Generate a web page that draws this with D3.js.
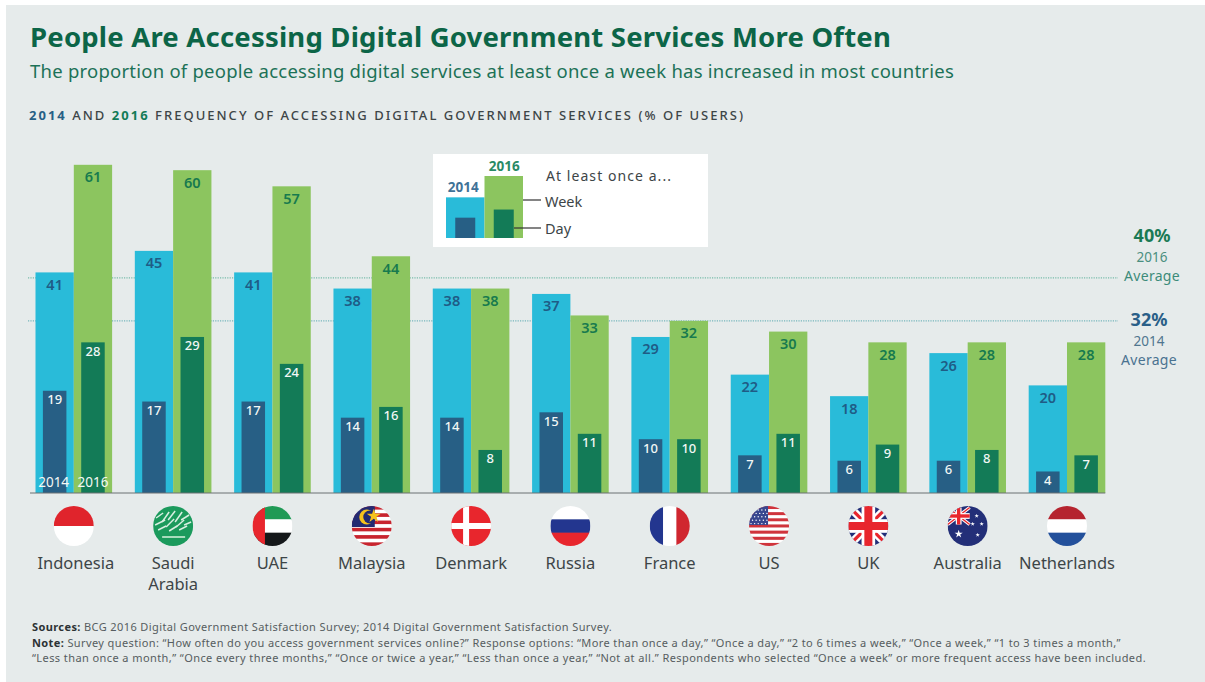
<!DOCTYPE html>
<html>
<head>
<meta charset="utf-8">
<script src="https://cdn.jsdelivr.net/npm/d3@7/dist/d3.min.js"></script>
<style>
html,body{margin:0;padding:0;background:#fff}
svg{display:block}
text{font-family:"Noto Sans",sans-serif}
</style>
</head>
<body>
<svg id="chart" width="1205" height="682"></svg>
<script>
const countries = ["Indonesia","Saudi Arabia","UAE","Malaysia","Denmark","Russia","France","US","UK","Australia","Netherlands"];
const years = ["2014","2016"];
const week2014 = [41,45,41,38,38,37,29,22,18,26,20];
const week2016 = [61,60,57,44,38,33,32,30,28,28,28];
const day2014 = [19,17,17,14,14,15,10,7,6,6,4];
const day2016 = [28,29,24,16,8,11,10,11,9,8,7];
const averages = [{year:"2016",value:40},{year:"2014",value:32}];
const legendWeek = [40,61];
const legendDay = [20,28];

const titleText = "People Are Accessing Digital Government Services More Often";
const subtitleText = "The proportion of people accessing digital services at least once a week has increased in most countries";
const noteLines = [
  [["Sources: ",true],["BCG 2016 Digital Government Satisfaction Survey; 2014 Digital Government Satisfaction Survey.",false]],
  [["Note: ",true],["Survey question: “How often do you access government services online?” Response options: “More than once a day,” “Once a day,” “2 to 6 times a week,” “Once a week,” “1 to 3 times a month,”",false]],
  [["“Less than once a month,” “Once every three months,” “Once or twice a year,” “Less than once a year,” “Not at all.” Respondents who selected “Once a week” or more frequent access have been included.",false]]
];

const colors = {
  panel:"#e6ebeb", week2014:"#29bbd9", week2016:"#8cc55f", day2014:"#275f85", day2016:"#137b57",
  title:"#0c6547", subtitle:"#1c7257", text:"#3d4547", label2014:"#1f5c86", label2016:"#177a4e"
};

const svg = d3.select("#chart");

// Stretches or tightens tracking so a line of text spans a given width
function fitWidth(sel, width){
  const node = sel.node();
  const n = node.getNumberOfChars();
  const w = node.getComputedTextLength();
  sel.attr("letter-spacing", ((width - w) / n).toFixed(3));
  return sel;
}

svg.append("rect").attr("x",6).attr("y",5).attr("width",1199).attr("height",677).attr("fill",colors.panel);

// Header block
fitWidth(svg.append("text").attr("x",30).attr("y",47).attr("font-size",27.5).attr("font-weight",700)
  .attr("fill",colors.title).text(titleText), 861);
fitWidth(svg.append("text").attr("x",30).attr("y",78).attr("font-size",18.5).attr("fill",colors.subtitle)
  .text(subtitleText), 924);
const heading = svg.append("text").attr("x",29).attr("y",120).attr("font-size",13).attr("font-weight",500).attr("fill",colors.text);
heading.append("tspan").attr("fill",colors.day2014).attr("font-weight",700).text("2014");
heading.append("tspan").text(" AND ");
heading.append("tspan").attr("fill",colors.day2016).attr("font-weight",700).text("2016");
heading.append("tspan").text(" FREQUENCY OF ACCESSING DIGITAL GOVERNMENT SERVICES (% OF USERS)");
fitWidth(heading, 716);

// Scales
const baseY = 493;
const y = d3.scaleLinear().domain([0,61]).range([baseY,164.8]);
const x0 = d3.scaleBand().domain(countries).range([35.5,1105.3]).paddingInner(0.2286);
const x1 = d3.scaleBand().domain(years).range([0,x0.bandwidth()]);
const innerW = 23.5;

// Dotted average lines run behind the bars
const avgColors = {"2016":"#79bcaa","2014":"#76b6bc"};
svg.append("g").selectAll("line").data(averages).join("line")
  .attr("x1",28).attr("x2",1118)
  .attr("y1",d=>y(d.value)).attr("y2",d=>y(d.value))
  .attr("stroke",d=>avgColors[d.year]).attr("stroke-width",1.2).attr("stroke-dasharray","1.2 1.2");

// Bars
const rows = countries.map((c,i)=>({country:c, series:[
  {year:"2014",week:week2014[i],day:day2014[i]},
  {year:"2016",week:week2016[i],day:day2016[i]}
]}));
const groups = svg.append("g").selectAll("g").data(rows).join("g")
  .attr("transform",d=>`translate(${x0(d.country)},0)`);
const bars = groups.selectAll("g").data(d=>d.series).join("g")
  .attr("transform",d=>`translate(${x1(d.year)},0)`);
bars.append("rect").attr("x",0).attr("width",x1.bandwidth())
  .attr("y",d=>y(d.week)).attr("height",d=>baseY-y(d.week))
  .attr("fill",d=>d.year==="2014"?colors.week2014:colors.week2016);
bars.append("rect").attr("x",(x1.bandwidth()-innerW)/2).attr("width",innerW)
  .attr("y",d=>y(d.day)).attr("height",d=>baseY-y(d.day))
  .attr("fill",d=>d.year==="2014"?colors.day2014:colors.day2016);
bars.append("text").attr("x",x1.bandwidth()/2).attr("y",d=>y(d.week)+17.5)
  .attr("text-anchor","middle").attr("font-size",14.5).attr("font-weight",600)
  .attr("fill",d=>d.year==="2014"?colors.label2014:colors.label2016).text(d=>d.week);
bars.append("text").attr("x",x1.bandwidth()/2).attr("y",d=>y(d.day)+13.5)
  .attr("text-anchor","middle").attr("font-size",13).attr("font-weight",500)
  .attr("fill","#f2f7f5").text(d=>d.day);

// Year captions at the foot of the first pair
svg.append("g").selectAll("text").data(years).join("text")
  .attr("x",d=>x0(countries[0])+x1(d)+x1.bandwidth()/2-(d==="2014"?1:0))
  .attr("y",487).attr("text-anchor","middle").attr("font-size",13.5).attr("fill","#f4f8f4").text(d=>d);

// Category axis: baseline plus country names
const axis = svg.append("g").attr("transform",`translate(0,${baseY})`)
  .call(d3.axisBottom(x0).tickSize(0).tickPadding(60));
axis.select(".domain").remove();
axis.append("line").attr("x1",30).attr("x2",1105.3).attr("stroke","#6b7072").attr("stroke-width",1);
axis.selectAll(".tick text").each(function(d){
  const t = d3.select(this);
  const parts = d==="Saudi Arabia"?["Saudi","Arabia"]:[d];
  const nudge = d==="Indonesia"?2:0;
  t.text(null).attr("y",null).attr("dy",null).attr("font-size",16.5).attr("font-family",'"Noto Sans",sans-serif').attr("fill",colors.text);
  parts.forEach((p,i)=>t.append("tspan").attr("x",nudge).attr("y",75.5+i*21.5).text(p));
});

// Flags drawn as small clipped emblems above each country name
const flagR = 20;
const flagY = 526;
svg.append("defs").append("clipPath").attr("id","flag-clip").append("circle").attr("r",flagR);
const RED="#e8262d", WHITE="#ffffff", NAVY="#232f78";
function stripes(g, cols, r=flagR){
  const h = 2*r/cols.length;
  cols.forEach((c,i)=>g.append("rect").attr("x",-r).attr("y",-r+i*h).attr("width",2*r).attr("height",h+0.3).attr("fill",c));
}
function bands(g, cols){
  const w = 2*flagR/cols.length;
  cols.forEach((c,i)=>g.append("rect").attr("x",-flagR+i*w).attr("y",-flagR).attr("width",w+0.3).attr("height",2*flagR).attr("fill",c));
}
function star(g,x,y,r,fill=WHITE){
  g.append("path").attr("transform",`translate(${x},${y})`).attr("fill",fill)
    .attr("d",d3.symbol(d3.symbolStar,r*r*3)());
}
function unionJack(g, x, y, w, h){
  const u = g.append("g").attr("transform",`translate(${x},${y})`);
  u.append("rect").attr("x",-w/2).attr("y",-h/2).attr("width",w).attr("height",h).attr("fill",NAVY);
  const diag=[[-w/2,-h/2,w/2,h/2],[-w/2,h/2,w/2,-h/2]];
  diag.forEach(d=>u.append("line").attr("x1",d[0]).attr("y1",d[1]).attr("x2",d[2]).attr("y2",d[3]).attr("stroke",WHITE).attr("stroke-width",h*0.2));
  diag.forEach(d=>u.append("line").attr("x1",d[0]).attr("y1",d[1]).attr("x2",d[2]).attr("y2",d[3]).attr("stroke",RED).attr("stroke-width",h*0.08));
  u.append("rect").attr("x",-w/2).attr("y",-h*0.17).attr("width",w).attr("height",h*0.34).attr("fill",WHITE);
  u.append("rect").attr("x",-h*0.17).attr("y",-h/2).attr("width",h*0.34).attr("height",h).attr("fill",WHITE);
  u.append("rect").attr("x",-w/2).attr("y",-h*0.1).attr("width",w).attr("height",h*0.2).attr("fill",RED);
  u.append("rect").attr("x",-h*0.1).attr("y",-h/2).attr("width",h*0.2).attr("height",h).attr("fill",RED);
}
const flagPainters = {
  "Indonesia": g=>stripes(g,["#e0242c","#ffffff"]),
  "Saudi Arabia": g=>{
    stripes(g,["#1b9a5c"]);
    const marks=[[-17,-8,-10,-13],[-11,-4,-4,-14],[-5,-6,2,-15],[2,-4,9,-14],[8,-6,16,-11],[-18,-1,-8,-6],[-7,1,1,-7],[3,1,11,-6],[11,-1,18,-4],[-15,4,-7,0],[-4,5,4,0],[6,4,14,0]];
    marks.forEach(m=>g.append("line").attr("x1",m[0]).attr("y1",m[1]).attr("x2",m[2]).attr("y2",m[3]).attr("stroke","#d9efe2").attr("stroke-width",1.5));
    g.append("line").attr("x1",-11).attr("x2",12).attr("y1",11).attr("y2",11).attr("stroke","#a9dcbd").attr("stroke-width",2);
  },
  "UAE": g=>{
    stripes(g,["#1f9a55","#ffffff","#15181a"]);
    g.append("rect").attr("x",-flagR).attr("y",-flagR).attr("width",12.5).attr("height",2*flagR).attr("fill","#e8262d");
  },
  "Malaysia": g=>{
    stripes(g,["#c8242e","#ffffff","#c8242e","#ffffff","#c8242e","#ffffff","#c8242e","#ffffff","#c8242e","#ffffff","#c8242e"]);
    g.append("rect").attr("x",-flagR).attr("y",-flagR).attr("width",flagR+3).attr("height",flagR+1).attr("fill","#232a72");
    g.append("circle").attr("cx",-5).attr("cy",-9).attr("r",7.5).attr("fill","#f6c21c");
    g.append("circle").attr("cx",-2).attr("cy",-9).attr("r",6.5).attr("fill","#232a72");
    star(g,2,-10,4.5,"#f6c21c");
  },
  "Denmark": g=>{
    stripes(g,[RED]);
    g.append("rect").attr("x",-8).attr("y",-flagR).attr("width",6).attr("height",2*flagR).attr("fill",WHITE);
    g.append("rect").attr("x",-flagR).attr("y",-3).attr("width",2*flagR).attr("height",6).attr("fill",WHITE);
  },
  "Russia": g=>stripes(g,["#ffffff","#23368f","#e8262d"]),
  "France": g=>bands(g,["#23368f","#ffffff","#d0262f"]),
  "US": g=>{
    const cols=[];
    for(let i=0;i<13;i++) cols.push(i%2?"#ffffff":"#d0343c");
    stripes(g,cols);
    g.append("rect").attr("x",-flagR).attr("y",-flagR).attr("width",flagR-1).attr("height",flagR-1).attr("fill","#39478f");
    for(let r=0;r<5;r++) for(let c=0;c<5;c++) g.append("circle").attr("cx",-18+c*3.6+(r%2)*1.5).attr("cy",-16+r*3.4).attr("r",0.7).attr("fill",WHITE);
  },
  "UK": g=>unionJack(g,0,0,40,40),
  "Australia": g=>{
    stripes(g,[NAVY]);
    unionJack(g,-9,-10,22,17);
    star(g,-9,8,2.6);
    [[9,-10],[14,-2],[5,-2],[10,9]].forEach(p=>star(g,p[0],p[1],1.4));
  },
  "Netherlands": g=>stripes(g,["#b5242f","#ffffff","#23509b"])
};
const flags = svg.append("g").selectAll("g").data(countries).join("g")
  .attr("transform",d=>`translate(${x0(d)+x0.bandwidth()/2},${flagY})`);
flags.append("g").attr("clip-path","url(#flag-clip)").each(function(d){ flagPainters[d](d3.select(this)); });

// Legend
const legend = svg.append("g");
legend.append("rect").attr("x",433).attr("y",154).attr("width",275).attr("height",93).attr("fill","#ffffff");
const lx = d3.scaleBand().domain(years).range([446,523]);
const ly = d3.scaleLinear().domain([0,61]).range([238,176]);
const legendRows = years.map((yr,i)=>({year:yr,week:legendWeek[i],day:legendDay[i]}));
const lb = legend.selectAll("g").data(legendRows).join("g");
lb.append("rect").attr("x",d=>lx(d.year)).attr("width",lx.bandwidth())
  .attr("y",d=>ly(d.week)).attr("height",d=>238-ly(d.week))
  .attr("fill",d=>d.year==="2014"?colors.week2014:colors.week2016);
lb.append("rect").attr("x",d=>lx(d.year)+(lx.bandwidth()-20)/2).attr("width",20)
  .attr("y",d=>ly(d.day)).attr("height",d=>238-ly(d.day))
  .attr("fill",d=>d.year==="2014"?colors.day2014:colors.day2016);
lb.append("text").attr("x",d=>lx(d.year)+lx.bandwidth()/2-(d.year==="2014"?2:-0.5)).attr("y",d=>ly(d.week)-5)
  .attr("text-anchor","middle").attr("font-size",13.5).attr("font-weight",700)
  .attr("fill",d=>d.year==="2014"?"#3f7297":"#2a8a66").text(d=>d.year);
legend.append("line").attr("x1",523).attr("x2",541).attr("y1",200).attr("y2",200).attr("stroke","#333").attr("stroke-width",1.2);
legend.append("line").attr("x1",514).attr("x2",541).attr("y1",228).attr("y2",228).attr("stroke","#333").attr("stroke-width",1.2);
fitWidth(legend.append("text").attr("x",546).attr("y",181).attr("font-size",14).attr("fill",colors.text).text("At least once a..."),126);
legend.append("text").attr("x",545).attr("y",207).attr("font-size",14.5).attr("fill",colors.text).text("Week");
legend.append("text").attr("x",545).attr("y",234).attr("font-size",14.5).attr("fill",colors.text).text("Day");

// Average call-outs at the right edge
const callouts = svg.append("g").selectAll("g").data(averages).join("g")
  .attr("transform",d=>`translate(${d.year==="2016"?1152:1149},${y(d.value)})`);
callouts.append("text").attr("text-anchor","middle").attr("y",d=>d.year==="2016"?-36:5)
  .attr("font-size",18).attr("font-weight",700)
  .attr("fill",d=>d.year==="2016"?"#197a55":"#2a5f88").text(d=>d.value+"%");
callouts.append("text").attr("text-anchor","middle").attr("y",d=>d.year==="2016"?-16:25)
  .attr("font-size",13.5).attr("fill",d=>d.year==="2016"?"#4b8f80":"#50768f").text(d=>d.year);
callouts.append("text").attr("text-anchor","middle").attr("y",d=>d.year==="2016"?3.5:44.5)
  .attr("font-size",14).attr("letter-spacing",0.3).attr("fill",d=>d.year==="2016"?"#3d8b7a":"#4a7290").text("Average");

// Footnotes
const noteWidths = [580,1089,1114];
noteLines.forEach((parts,i)=>{
  const t = svg.append("text").attr("x",32).attr("y",631+i*15.6).attr("font-size",11).attr("fill","#565d60");
  parts.forEach(([s,b])=>t.append("tspan").attr("font-weight",b?700:400).attr("fill",b?"#2c3234":"#565d60").text(s));
  fitWidth(t,noteWidths[i]);
});
</script>
</body>
</html>
